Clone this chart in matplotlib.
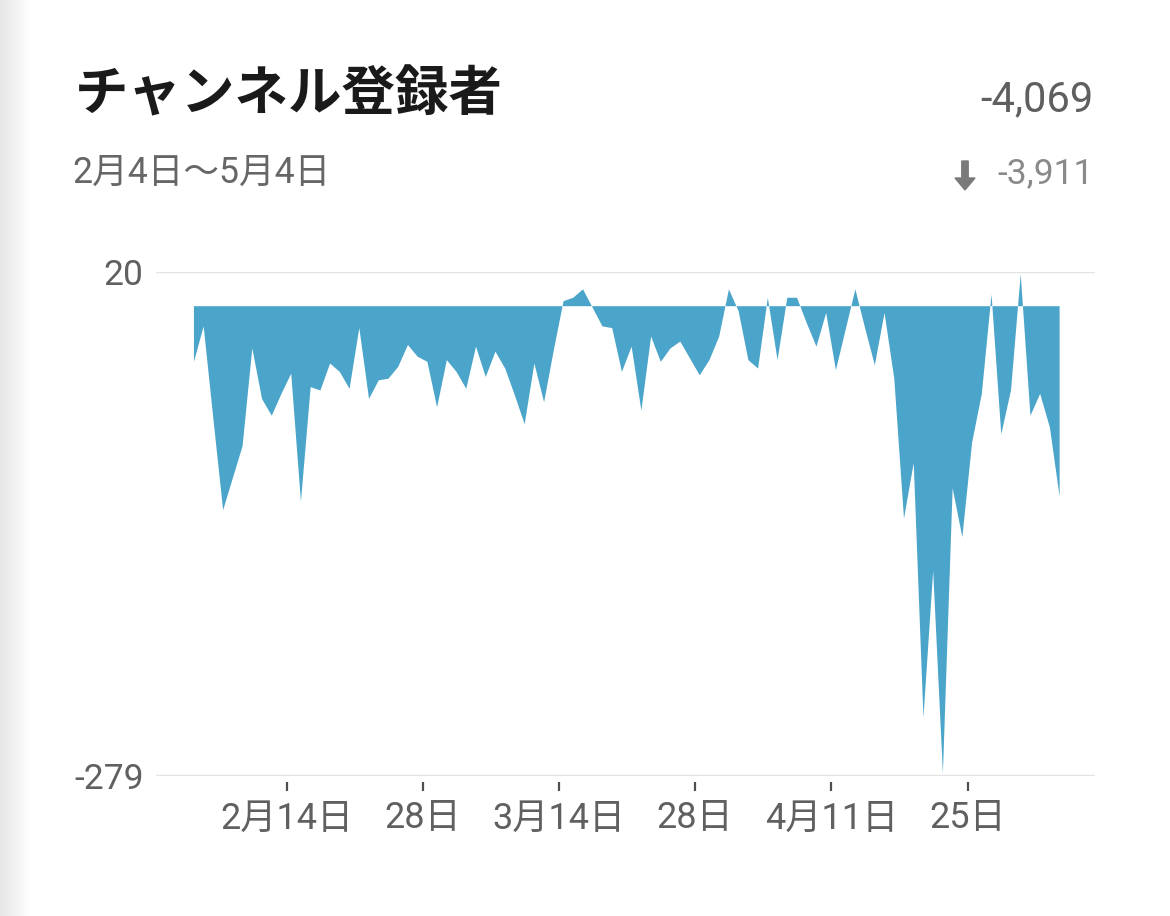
import numpy as np
import pandas as pd
import matplotlib
matplotlib.use("Agg")
import matplotlib.pyplot as plt
from matplotlib.patches import FancyArrow

# daily net subscriber change, 2月4日 .. 5月4日
start_date = "2021-02-04"
daily_change = [
    -33, -12, -67, -121, -102, -83, -25, -55, -65, -52,
    -40, -116, -48, -50, -34, -39, -49, -13, -55, -44,
    -43, -36, -23, -30, -33, -60, -32, -39, -49, -24,
    -42, -27, -37, -53, -70, -34, -57, -26, 3, 5,
    10, -1, -12, -13, -39, -24, -62, -18, -33, -25,
    -21, -31, -41, -32, -18, 10, -3, -32, -37, 5,
    -32, 5, 5, -10, -24, -4, -38, -14, 10, -13,
    -35, -4, -43, -126, -93, -244, -157, -277, -108, -137,
    -81, -52, 7, -76, -50, 19, -65, -52, -72, -113,
]
tick_dates = ["2021-02-14", "2021-02-28", "2021-03-14", "2021-03-28", "2021-04-11", "2021-04-25"]
tick_labels = ["2月14日", "28日", "3月14日", "28日", "4月11日", "25日"]
y_ticks = [-279, 20]

title = "チャンネル登録者"
subtitle = "2月4日〜5月4日"
total_text = "-4,069"
compare_text = "-3,911"

dates = pd.date_range(start_date, periods=len(daily_change))
days = np.arange(len(daily_change))
# the app puts its date ticks a little before the day's point
tick_pos = [(pd.Timestamp(d) - dates[0]).days - 0.42 for d in tick_dates]

fill_color = "#4ba5ca"
label_color = "#606060"
grid_color = "#e3e3e3"
latin_cjk = ["Roboto", "Noto Sans CJK JP", "DejaVu Sans"]

fig = plt.figure(figsize=(11.7, 9.16), dpi=100)
fig.patch.set_facecolor("white")

# faint shadow strip on the left edge of the screenshot
shade = fig.add_axes([0, 0, 0.026, 1])
grad = np.linspace(0.9, 1.0, 64).reshape(1, -1)
shade.imshow(grad, cmap="gray", vmin=0, vmax=1, aspect="auto", extent=[0, 1, 0, 1])
shade.axis("off")

ax = fig.add_axes([0.1335, 0.1528, 0.8025, 0.5503])
ax.fill_between(days, daily_change, 0, color=fill_color, linewidth=0)

ax.set_xlim(-3.83, 92.7)
ax.set_ylim(y_ticks[0], y_ticks[1])

for s in ax.spines.values():
    s.set_visible(False)
ax.spines["bottom"].set_position(("outward", 4))

ax.set_yticks(y_ticks)
ax.set_yticklabels([str(v) for v in y_ticks], family=latin_cjk, fontsize=25.5, color=label_color)
ax.tick_params(axis="y", length=0, pad=9)
ax.yaxis.grid(True, color=grid_color, linewidth=1.7)
ax.set_axisbelow(False)

ax.set_xticks(tick_pos)
ax.set_xticklabels(tick_labels, family=latin_cjk, fontsize=26, color=label_color)
ax.tick_params(axis="x", direction="out", length=6.5, width=1.6, color="#505050", pad=7)

fig.text(0.064, 0.896, title, family=["Noto Sans CJK JP"], fontweight="bold",
         fontsize=38.5, color="#1a1a1a", va="center", ha="left")
fig.text(0.062, 0.811, subtitle, family=latin_cjk, fontsize=25.7, color="#666666",
         va="center", ha="left")
fig.text(0.9345, 0.891, total_text, family=latin_cjk, fontsize=30, color="#5f5f5f",
         va="center", ha="right")
fig.text(0.9345, 0.810, compare_text, family=latin_cjk, fontsize=25.5, color="#8a8a8a",
         va="center", ha="right")

# material style down arrow next to the comparison value
W, H = 1170.0, 916.0
fig.patches.append(FancyArrow(965 / W, 1 - 161 / H, 0, -(29 - 12) / H, width=5 / H,
                              head_width=20 / W, head_length=12 / H, length_includes_head=False,
                              color="#7a7a7a", transform=fig.transFigure, figure=fig))

fig.savefig("out.png", dpi=100, facecolor="white")
